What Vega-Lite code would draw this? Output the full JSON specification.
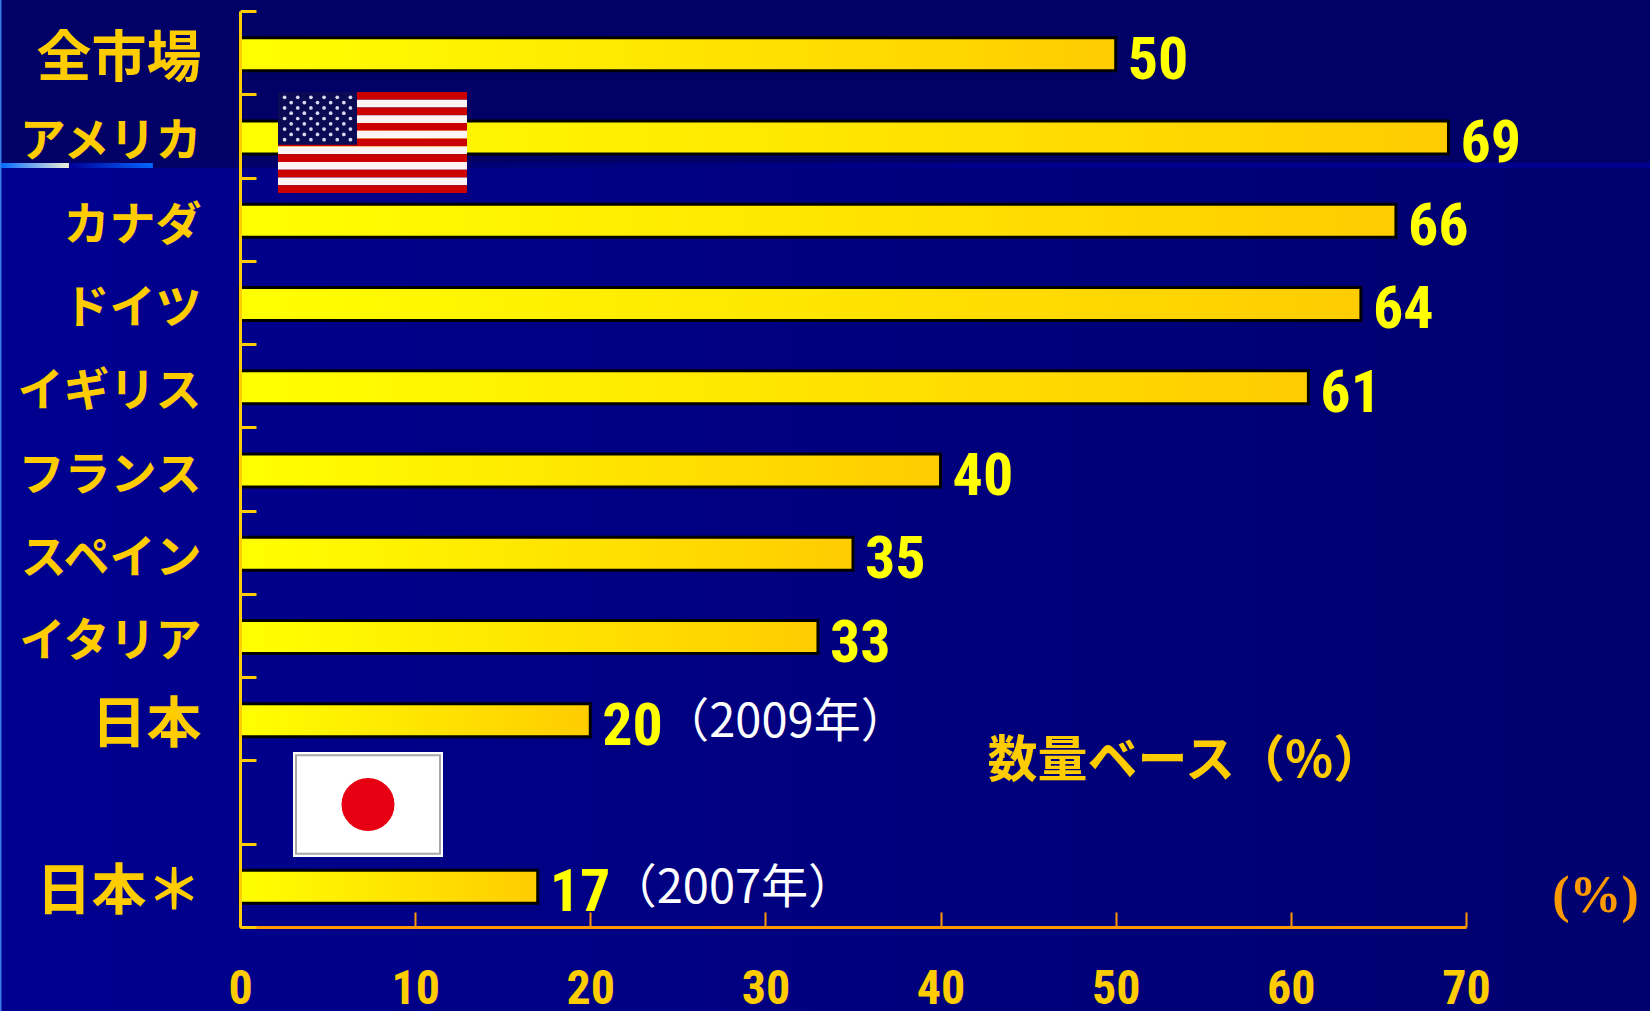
{
  "$schema": "https://vega.github.io/schema/vega-lite/v6.json",
  "width": 1650,
  "height": 1011,
  "padding": 0,
  "autosize": {"type": "none"},
  "background": "#000070",
  "datasets": {
    "share": [
      {"market": "全市場", "share": 50},
      {"market": "アメリカ", "share": 69},
      {"market": "カナダ", "share": 66},
      {"market": "ドイツ", "share": 64},
      {"market": "イギリス", "share": 61},
      {"market": "フランス", "share": 40},
      {"market": "スペイン", "share": 35},
      {"market": "イタリア", "share": 33},
      {"market": "日本", "share": 20, "year": "（2009年）"},
      {"market": "日本＊", "share": 17, "year": "（2007年）"}
    ],
    "panels": [
      {"name": "lower", "x0": 0, "x1": 1, "y0": 0.1662, "y1": 1},
      {"name": "upper", "x0": 0, "x1": 1, "y0": 0, "y1": 0.1662},
      {"name": "rule1", "x0": 0, "x1": 0.0418, "y0": 0.1612, "y1": 0.1662},
      {"name": "rule2", "x0": 0.0418, "x1": 0.0927, "y0": 0.1612, "y1": 0.1662},
      {"name": "rule3", "x0": 0.0927, "x1": 1, "y0": 0.1612, "y1": 0.1662},
      {"name": "edge", "x0": 0, "x1": 0.0009, "y0": 0, "y1": 1}
    ],
    "stripes": [
      {"i": 0, "c": "r"}, {"i": 1, "c": "w"}, {"i": 2, "c": "r"}, {"i": 3, "c": "w"},
      {"i": 4, "c": "r"}, {"i": 5, "c": "w"}, {"i": 6, "c": "r"}, {"i": 7, "c": "w"},
      {"i": 8, "c": "r"}, {"i": 9, "c": "w"}, {"i": 10, "c": "r"}, {"i": 11, "c": "w"},
      {"i": 12, "c": "r"}
    ],
    "stars": [
      {"col": 1, "row": 1}, {"col": 3, "row": 1}, {"col": 5, "row": 1}, {"col": 7, "row": 1}, {"col": 9, "row": 1}, {"col": 11, "row": 1},
      {"col": 2, "row": 2}, {"col": 4, "row": 2}, {"col": 6, "row": 2}, {"col": 8, "row": 2}, {"col": 10, "row": 2},
      {"col": 1, "row": 3}, {"col": 3, "row": 3}, {"col": 5, "row": 3}, {"col": 7, "row": 3}, {"col": 9, "row": 3}, {"col": 11, "row": 3},
      {"col": 2, "row": 4}, {"col": 4, "row": 4}, {"col": 6, "row": 4}, {"col": 8, "row": 4}, {"col": 10, "row": 4},
      {"col": 1, "row": 5}, {"col": 3, "row": 5}, {"col": 5, "row": 5}, {"col": 7, "row": 5}, {"col": 9, "row": 5}, {"col": 11, "row": 5},
      {"col": 2, "row": 6}, {"col": 4, "row": 6}, {"col": 6, "row": 6}, {"col": 8, "row": 6}, {"col": 10, "row": 6},
      {"col": 1, "row": 7}, {"col": 3, "row": 7}, {"col": 5, "row": 7}, {"col": 7, "row": 7}, {"col": 9, "row": 7}, {"col": 11, "row": 7},
      {"col": 2, "row": 8}, {"col": 4, "row": 8}, {"col": 6, "row": 8}, {"col": 8, "row": 8}, {"col": 10, "row": 8},
      {"col": 1, "row": 9}, {"col": 3, "row": 9}, {"col": 5, "row": 9}, {"col": 7, "row": 9}, {"col": 9, "row": 9}, {"col": 11, "row": 9}
    ]
  },
  "resolve": {"scale": {"x": "independent", "y": "independent"}, "axis": {"x": "independent", "y": "independent"}},
  "layer": [
    {
      "data": {"name": "panels"},
      "transform": [{"filter": "datum.name === 'lower'"}],
      "mark": {"type": "rect", "fill": {
        "gradient": "linear", "x1": 0, "x2": 1, "y1": 0, "y2": 0,
        "stops": [{"offset": 0, "color": "#000090"}, {"offset": 1, "color": "#00006E"}]
      }},
      "encoding": {
        "x": {"field": "x0", "type": "quantitative", "axis": null, "scale": {"domain": [0, 1], "range": [0, 1650]}},
        "x2": {"field": "x1"},
        "y": {"field": "y0", "type": "quantitative", "axis": null, "scale": {"domain": [0, 1], "range": [0, 1011]}},
        "y2": {"field": "y1"}
      }
    },
    {
      "data": {"name": "panels"},
      "transform": [{"filter": "datum.name === 'upper'"}],
      "mark": {"type": "rect", "fill": "#000066"},
      "encoding": {
        "x": {"field": "x0", "type": "quantitative", "axis": null, "scale": {"domain": [0, 1], "range": [0, 1650]}},
        "x2": {"field": "x1"},
        "y": {"field": "y0", "type": "quantitative", "axis": null, "scale": {"domain": [0, 1], "range": [0, 1011]}},
        "y2": {"field": "y1"}
      }
    },
    {
      "data": {"name": "panels"},
      "transform": [{"filter": "datum.name === 'rule1'"}],
      "mark": {"type": "rect", "fill": {
        "gradient": "linear", "x1": 0, "x2": 1, "y1": 0, "y2": 0,
        "stops": [{"offset": 0, "color": "#0066FF"}, {"offset": 1, "color": "#F0F0D8"}]
      }},
      "encoding": {
        "x": {"field": "x0", "type": "quantitative", "axis": null, "scale": {"domain": [0, 1], "range": [0, 1650]}},
        "x2": {"field": "x1"},
        "y": {"field": "y0", "type": "quantitative", "axis": null, "scale": {"domain": [0, 1], "range": [0, 1011]}},
        "y2": {"field": "y1"}
      }
    },
    {
      "data": {"name": "panels"},
      "transform": [{"filter": "datum.name === 'rule2'"}],
      "mark": {"type": "rect", "fill": {
        "gradient": "linear", "x1": 0, "x2": 1, "y1": 0, "y2": 0,
        "stops": [{"offset": 0, "color": "#000099"}, {"offset": 1, "color": "#0066FF"}]
      }},
      "encoding": {
        "x": {"field": "x0", "type": "quantitative", "axis": null, "scale": {"domain": [0, 1], "range": [0, 1650]}},
        "x2": {"field": "x1"},
        "y": {"field": "y0", "type": "quantitative", "axis": null, "scale": {"domain": [0, 1], "range": [0, 1011]}},
        "y2": {"field": "y1"}
      }
    },
    {
      "data": {"name": "panels"},
      "transform": [{"filter": "datum.name === 'rule3'"}],
      "mark": {"type": "rect", "fill": {
        "gradient": "linear", "x1": 0, "x2": 1, "y1": 0, "y2": 0,
        "stops": [{"offset": 0, "color": "#000066"}, {"offset": 0.6, "color": "#000090"}, {"offset": 1, "color": "#000090"}]
      }},
      "encoding": {
        "x": {"field": "x0", "type": "quantitative", "axis": null, "scale": {"domain": [0, 1], "range": [0, 1650]}},
        "x2": {"field": "x1"},
        "y": {"field": "y0", "type": "quantitative", "axis": null, "scale": {"domain": [0, 1], "range": [0, 1011]}},
        "y2": {"field": "y1"}
      }
    },
    {
      "data": {"name": "panels"},
      "transform": [{"filter": "datum.name === 'edge'"}],
      "mark": {"type": "rect", "fill": "#3A7BE8"},
      "encoding": {
        "x": {"field": "x0", "type": "quantitative", "axis": null, "scale": {"domain": [0, 1], "range": [0, 1650]}},
        "x2": {"field": "x1"},
        "y": {"field": "y0", "type": "quantitative", "axis": null, "scale": {"domain": [0, 1], "range": [0, 1011]}},
        "y2": {"field": "y1"}
      }
    },
    {
      "data": {"name": "share"},
      "mark": {
        "type": "bar", "size": 33, "yOffset": 1.5, "stroke": "#000000", "strokeWidth": 3,
        "color": {
          "gradient": "linear", "x1": 0, "x2": 1, "y1": 0, "y2": 0,
          "stops": [{"offset": 0, "color": "#FFFF00"}, {"offset": 1, "color": "#FFCC00"}]
        }
      },
      "encoding": {
        "x": {
          "field": "share", "type": "quantitative",
          "scale": {"domain": [0, 70], "range": [240, 1466], "nice": false},
          "axis": {
            "title": null, "offset": -84, "grid": false, "zindex": 1,
            "values": [0, 10, 20, 30, 40, 50, 60, 70],
            "domainColor": "#FF9900", "domainWidth": 3,
            "tickColor": "#FF9900", "tickWidth": 2, "tickSize": -15,
            "labelColor": "#FFCC00", "labelFont": "Roboto Condensed, Liberation Sans", "labelFontWeight": "bold", "labelFontSize": 48,
            "labelPadding": 77, "labelBaseline": "middle", "labelFlush": false, "labelBound": false, "labelOverlap": false
          }
        },
        "y": {
          "field": "market", "type": "nominal",
          "scale": {
            "domain": ["全市場", "アメリカ", "カナダ", "ドイツ", "イギリス", "フランス", "スペイン", "イタリア", "日本", " ", "日本＊"],
            "range": [11, 927], "paddingInner": 0, "paddingOuter": 0
          },
          "axis": {
            "title": null, "offset": -240, "grid": false, "tickBand": "extent", "zindex": 1,
            "domainColor": "#FFCC00", "domainWidth": 3,
            "tickColor": "#FFCC00", "tickWidth": 3, "tickSize": -16,
            "labelColor": "#FFCC00", "labelFont": "Noto Sans CJK JP", "labelFontWeight": "bold",
            "labelFontSize": {"expr": "indexof(['全市場', '日本', '日本＊'], datum.label) >= 0 ? 55 : 46"},
            "labelOffset": 6,
            "labelPadding": 55, "labelAlign": "right", "labelLimit": 0, "labelBound": false, "labelOverlap": false
          }
        }
      }
    },
    {
      "data": {"name": "share"},
      "mark": {"type": "text", "align": "left", "baseline": "middle", "dx": 12, "dy": 8, "font": "Roboto Condensed, Liberation Sans", "fontWeight": "bold", "fontSize": 60, "fill": "#FFFF00"},
      "encoding": {
        "x": {"field": "share", "type": "quantitative", "axis": null, "scale": {"domain": [0, 70], "range": [240, 1466], "nice": false}},
        "y": {"field": "market", "type": "nominal", "axis": null, "scale": {
          "domain": ["全市場", "アメリカ", "カナダ", "ドイツ", "イギリス", "フランス", "スペイン", "イタリア", "日本", " ", "日本＊"],
          "range": [11, 927], "paddingInner": 0, "paddingOuter": 0
        }},
        "text": {"field": "share", "type": "quantitative"}
      }
    },
    {
      "data": {"name": "share"},
      "transform": [{"filter": "datum.year"}],
      "mark": {"type": "text", "align": "left", "baseline": "middle", "dx": 72, "dy": 4, "font": "Noto Sans CJK JP", "fontSize": 47, "fill": "#FFFFFF"},
      "encoding": {
        "x": {"field": "share", "type": "quantitative", "axis": null, "scale": {"domain": [0, 70], "range": [240, 1466], "nice": false}},
        "y": {"field": "market", "type": "nominal", "axis": null, "scale": {
          "domain": ["全市場", "アメリカ", "カナダ", "ドイツ", "イギリス", "フランス", "スペイン", "イタリア", "日本", " ", "日本＊"],
          "range": [11, 927], "paddingInner": 0, "paddingOuter": 0
        }},
        "text": {"field": "year", "type": "nominal"}
      }
    },
    {
      "data": {"values": [{"t": "数量ベース（%）", "p": 0.5985, "q": 0.7535}]},
      "mark": {"type": "text", "align": "left", "baseline": "middle", "font": "Noto Sans CJK JP", "fontWeight": "bold", "fontSize": 50, "fill": "#FFCC00"},
      "encoding": {
        "x": {"field": "p", "type": "quantitative", "axis": null, "scale": {"domain": [0, 1], "range": [0, 1650]}},
        "y": {"field": "q", "type": "quantitative", "axis": null, "scale": {"domain": [0, 1], "range": [0, 1011]}},
        "text": {"field": "t"}
      }
    },
    {
      "data": {"values": [{"t": "(%)", "p": 0.967, "q": 0.886}]},
      "mark": {"type": "text", "align": "center", "baseline": "middle", "font": "Liberation Serif", "fontWeight": "bold", "fontSize": 52, "fill": "#FF9900"},
      "encoding": {
        "x": {"field": "p", "type": "quantitative", "axis": null, "scale": {"domain": [0, 1], "range": [0, 1650]}},
        "y": {"field": "q", "type": "quantitative", "axis": null, "scale": {"domain": [0, 1], "range": [0, 1011]}},
        "text": {"field": "t"}
      }
    },
    {
      "data": {"name": "stripes"},
      "transform": [{"calculate": "datum.i + 1", "as": "j"}],
      "mark": {"type": "rect"},
      "encoding": {
        "x": {"datum": 0, "type": "quantitative", "axis": null, "scale": {"domain": [0, 1.9], "range": [278, 467]}},
        "x2": {"datum": 1.9},
        "y": {"field": "i", "type": "quantitative", "axis": null, "scale": {"domain": [0, 13], "range": [92, 193]}},
        "y2": {"field": "j"},
        "fill": {"field": "c", "type": "nominal", "legend": null, "scale": {"domain": ["r", "w"], "range": ["#CC0000", "#FFF4F4"]}}
      }
    },
    {
      "data": {"values": [{"a": 0, "b": 0.794, "c": 0, "d": 6.8}]},
      "mark": {"type": "rect", "fill": "#0A0A55"},
      "encoding": {
        "x": {"field": "a", "type": "quantitative", "axis": null, "scale": {"domain": [0, 1.9], "range": [278, 467]}},
        "x2": {"field": "b"},
        "y": {"field": "c", "type": "quantitative", "axis": null, "scale": {"domain": [0, 13], "range": [92, 193]}},
        "y2": {"field": "d"}
      }
    },
    {
      "data": {"name": "stars"},
      "mark": {"type": "circle", "size": 14, "fill": "#D8D8F0", "opacity": 1},
      "encoding": {
        "x": {"field": "col", "type": "quantitative", "axis": null, "scale": {"domain": [0, 12], "range": [278, 357]}},
        "y": {"field": "row", "type": "quantitative", "axis": null, "scale": {"domain": [0, 10], "range": [92, 145]}}
      }
    },
    {
      "data": {"values": [{"a": 0, "b": 1, "c": 0, "d": 1}]},
      "mark": {"type": "rect", "fill": "#FFFFFF"},
      "encoding": {
        "x": {"field": "a", "type": "quantitative", "axis": null, "scale": {"domain": [0, 1], "range": [293, 443]}},
        "x2": {"field": "b"},
        "y": {"field": "c", "type": "quantitative", "axis": null, "scale": {"domain": [0, 1], "range": [752, 857]}},
        "y2": {"field": "d"}
      }
    },
    {
      "data": {"values": [{"a": 0.02, "b": 0.98, "c": 0.03, "d": 0.97}]},
      "mark": {"type": "rect", "fill": "#FFFFFF", "stroke": "#A8A8A8", "strokeWidth": 2},
      "encoding": {
        "x": {"field": "a", "type": "quantitative", "axis": null, "scale": {"domain": [0, 1], "range": [293, 443]}},
        "x2": {"field": "b"},
        "y": {"field": "c", "type": "quantitative", "axis": null, "scale": {"domain": [0, 1], "range": [752, 857]}},
        "y2": {"field": "d"}
      }
    },
    {
      "data": {"values": [{"a": 0.5, "b": 0.5}]},
      "mark": {"type": "point", "shape": "circle", "filled": true, "size": 2809, "fill": "#E60012", "opacity": 1},
      "encoding": {
        "x": {"field": "a", "type": "quantitative", "axis": null, "scale": {"domain": [0, 1], "range": [293, 443]}},
        "y": {"field": "b", "type": "quantitative", "axis": null, "scale": {"domain": [0, 1], "range": [752, 857]}}
      }
    }
  ]
}
